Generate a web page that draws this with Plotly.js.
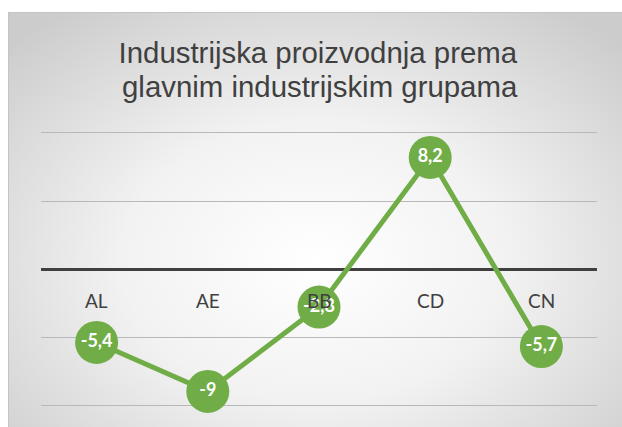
<!DOCTYPE html>
<html>
<head>
<meta charset="utf-8">
<script src="https://cdn.plot.ly/plotly-3.0.1.min.js"></script>
<style>
  html, body { margin: 0; padding: 0; background: #ffffff; }
  #frame {
    position: absolute; left: 8px; top: 12px; width: 614px; height: 415px;
    box-sizing: border-box;
    border-left: 1px solid #c4c4c4; border-top: 1px solid #c4c4c4;
    background: radial-gradient(ellipse 70% 75% at 50% 60%, #ffffff 0%, #f2f2f2 45%, #cccccc 100%);
  }
  #chart { position: absolute; left: 0; top: 0; width: 622px; height: 427px; }
</style>
</head>
<body>
<div id="frame"></div>
<div id="chart"></div>
<script>
const categories = ['AL', 'AE', 'BB', 'CD', 'CN'];
const values = [-5.4, -9, -2.8, 8.2, -5.7];
const titleLines = ['Industrijska proizvodnja prema', 'glavnim industrijskim grupama'];
const valueLabels = values.map(v => String(v).replace('.', ','));

const titleFont = { family: '"Liberation Sans", Arial, sans-serif', size: 29.4, color: '#404040' };

const trace = {
  x: categories,
  y: values,
  type: 'scatter',
  mode: 'lines+markers+text',
  line: { color: '#70ad47', width: 5 },
  marker: { color: '#70ad47', size: 43 },
  text: valueLabels,
  textposition: 'middle center',
  textfont: { family: 'Lato, "Open Sans", sans-serif', size: 18, color: '#ffffff', weight: 'bold' },
  hoverinfo: 'skip',
  cliponaxis: false
};

const annotations = categories.map(c => ({
  x: c, y: 0, xref: 'x', yref: 'y',
  text: c, showarrow: false,
  yanchor: 'middle', yshift: -31,
  font: { family: 'Lato, "Open Sans", sans-serif', size: 19, color: '#404040' }
}));
annotations.push({
  x: 0.502, y: 1.155, xref: 'paper', yref: 'paper',
  xanchor: 'center', yanchor: 'middle',
  text: titleLines[1], showarrow: false,
  font: titleFont
});

const layout = {
  width: 622, height: 427,
  paper_bgcolor: 'rgba(0,0,0,0)',
  plot_bgcolor: 'rgba(0,0,0,0)',
  margin: { l: 41, r: 25, t: 130, b: 19 },
  showlegend: false,
  title: {
    text: titleLines[0],
    font: titleFont,
    x: 0.511, xanchor: 'center',
    yref: 'container', y: 0.876, yanchor: 'middle'
  },
  xaxis: {
    type: 'category',
    range: [-0.5, 4.5],
    showgrid: false, zeroline: false, showline: false,
    showticklabels: false, ticks: ''
  },
  yaxis: {
    range: [-10.22, 10.22],
    dtick: 5, tick0: 0,
    showgrid: true, gridcolor: '#b8b8b8', gridwidth: 1,
    zeroline: true, zerolinecolor: '#404040', zerolinewidth: 3,
    showticklabels: false, ticks: '', showline: false
  },
  annotations: annotations
};

Plotly.newPlot('chart', [trace], layout, { displayModeBar: false, staticPlot: true });
</script>
</body>
</html>
